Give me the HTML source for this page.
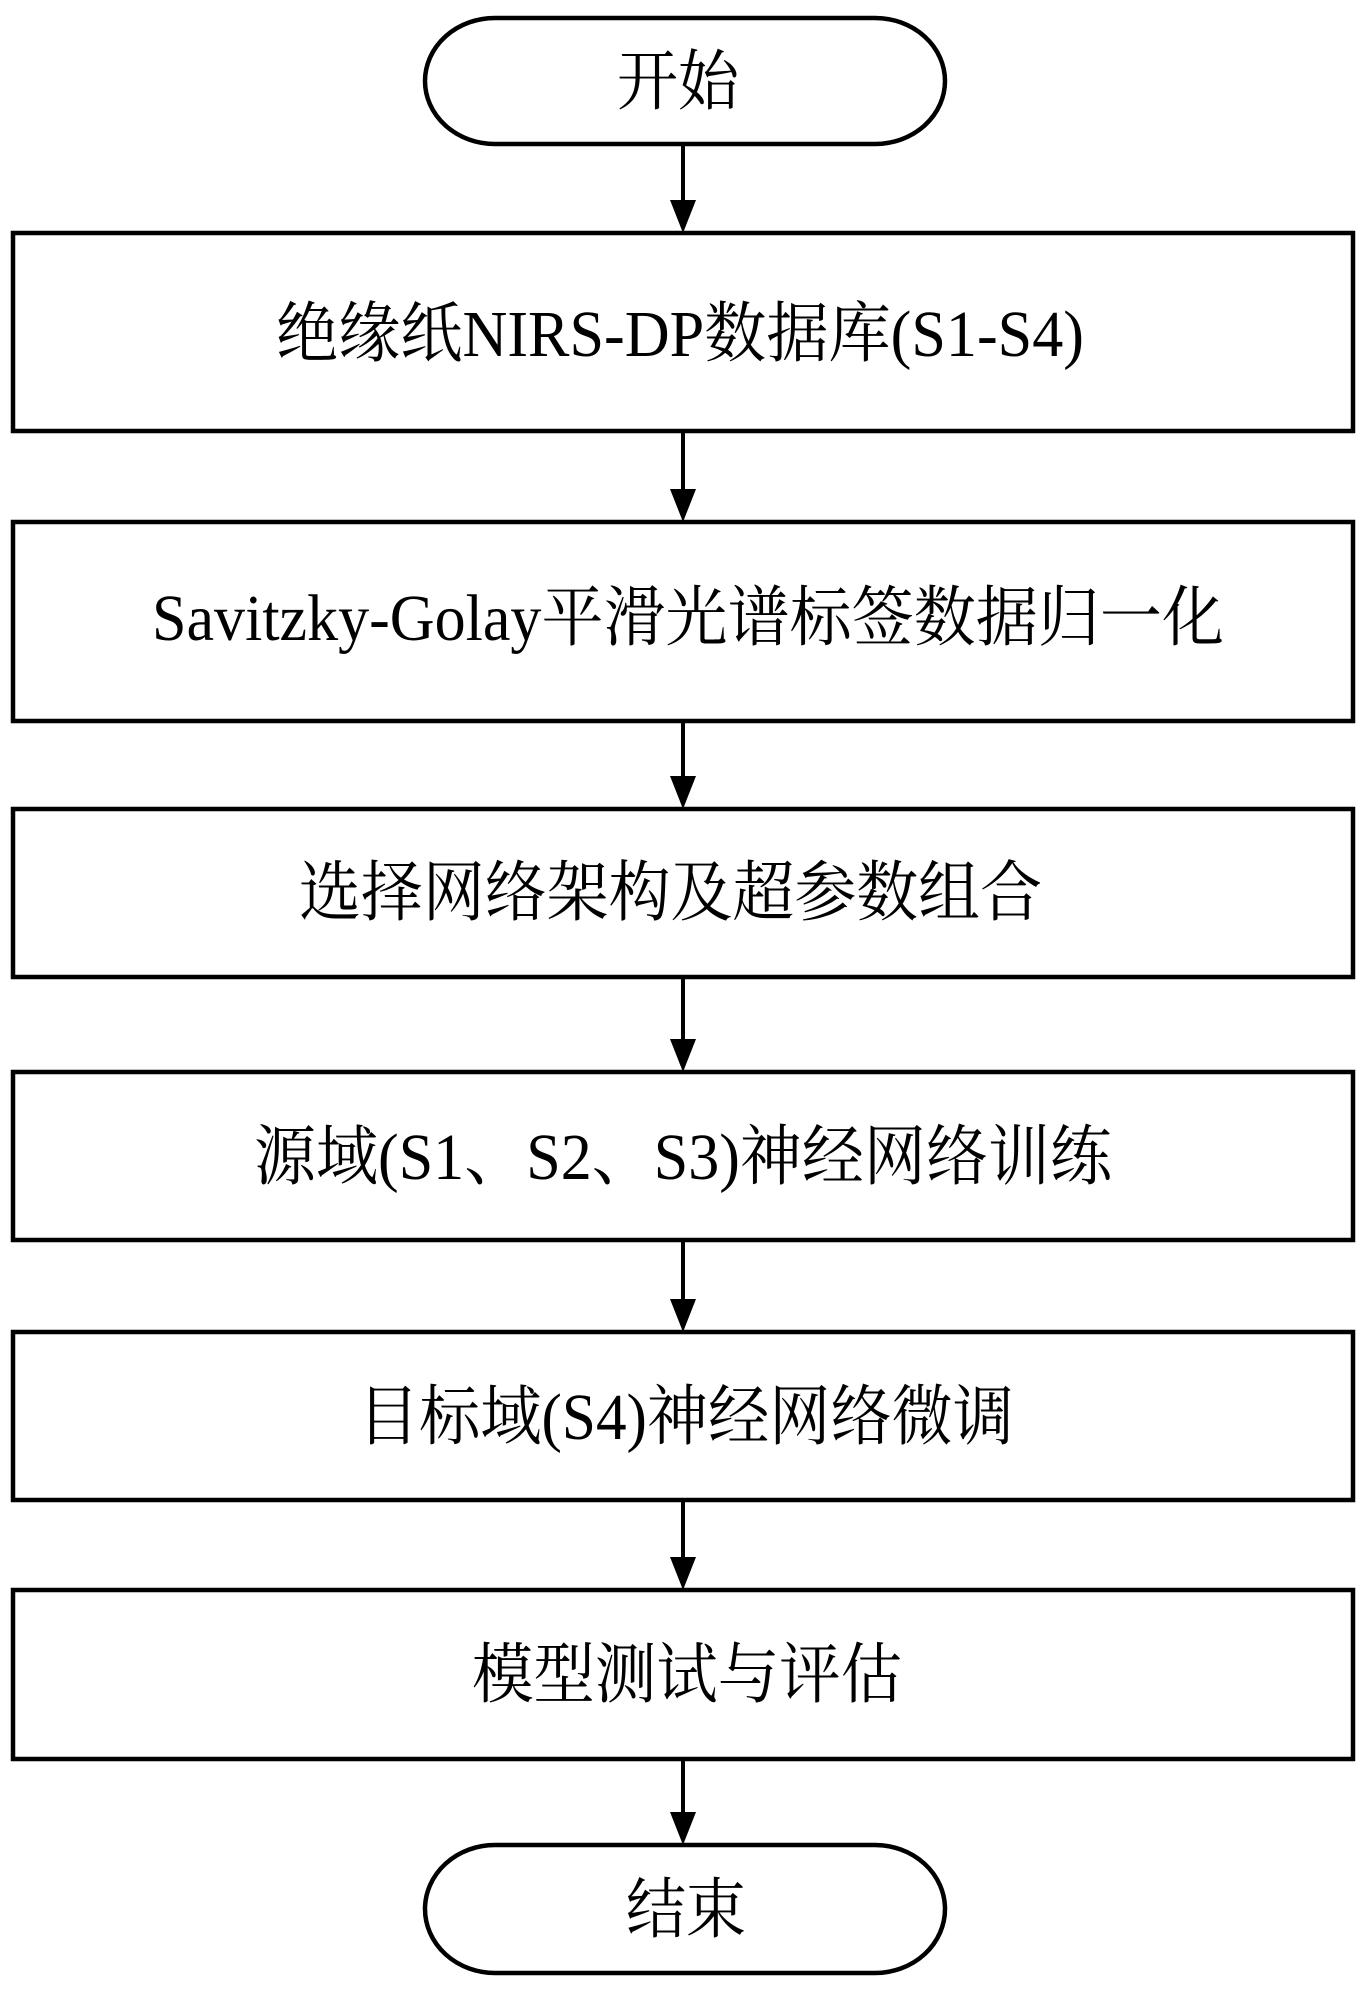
<!DOCTYPE html>
<html><head><meta charset="utf-8"><style>html,body{margin:0;padding:0;background:#fff}svg{display:block}text{font-family:"Liberation Serif","Noto Serif CJK SC",serif;font-size:66px;fill:#000}</style></head>
<body>
<svg width="1369" height="1994" viewBox="0 0 1369 1994" xmlns="http://www.w3.org/2000/svg">
<g fill="none" stroke="#000" stroke-width="4.5">
<rect x="425" y="18" width="520" height="126" rx="70" ry="63"/>
<rect x="13" y="233" width="1340" height="198"/>
<rect x="13" y="522" width="1340" height="199"/>
<rect x="13" y="809" width="1340" height="168"/>
<rect x="13" y="1072" width="1340" height="168"/>
<rect x="13" y="1332" width="1340" height="168"/>
<rect x="13" y="1590" width="1340" height="169"/>
<rect x="425" y="1845" width="520" height="128" rx="70" ry="64"/>
</g>
<g stroke="#000" stroke-width="4">
<line x1="683" y1="144" x2="683" y2="205"/>
<line x1="683" y1="431" x2="683" y2="494"/>
<line x1="683" y1="721" x2="683" y2="781"/>
<line x1="683" y1="977" x2="683" y2="1044"/>
<line x1="683" y1="1240" x2="683" y2="1304"/>
<line x1="683" y1="1500" x2="683" y2="1562"/>
<line x1="683" y1="1759" x2="683" y2="1817"/>
</g>
<g fill="#000">
<path d="M670,200 L696,200 L683,233 Z"/>
<path d="M670,489 L696,489 L683,522 Z"/>
<path d="M670,776 L696,776 L683,809 Z"/>
<path d="M670,1039 L696,1039 L683,1072 Z"/>
<path d="M670,1299 L696,1299 L683,1332 Z"/>
<path d="M670,1557 L696,1557 L683,1590 Z"/>
<path d="M670,1812 L696,1812 L683,1845 Z"/>
</g>
<text x="617" y="104" textLength="122" lengthAdjust="spacingAndGlyphs">开始</text>
<text x="276" y="356" textLength="808" lengthAdjust="spacingAndGlyphs">绝缘纸NIRS-DP数据库(S1-S4)</text>
<text x="152" y="640" textLength="1072" lengthAdjust="spacingAndGlyphs">Savitzky-Golay平滑光谱标签数据归一化</text>
<text x="299" y="915" textLength="743" lengthAdjust="spacingAndGlyphs">选择网络架构及超参数组合</text>
<text x="254" y="1179" textLength="858" lengthAdjust="spacingAndGlyphs">源域(S1、S2、S3)神经网络训练</text>
<text x="358" y="1439" textLength="656" lengthAdjust="spacingAndGlyphs">目标域(S4)神经网络微调</text>
<text x="472" y="1697" textLength="430" lengthAdjust="spacingAndGlyphs">模型测试与评估</text>
<text x="626" y="1932" textLength="120" lengthAdjust="spacingAndGlyphs">结束</text>
</svg>
</body></html>
